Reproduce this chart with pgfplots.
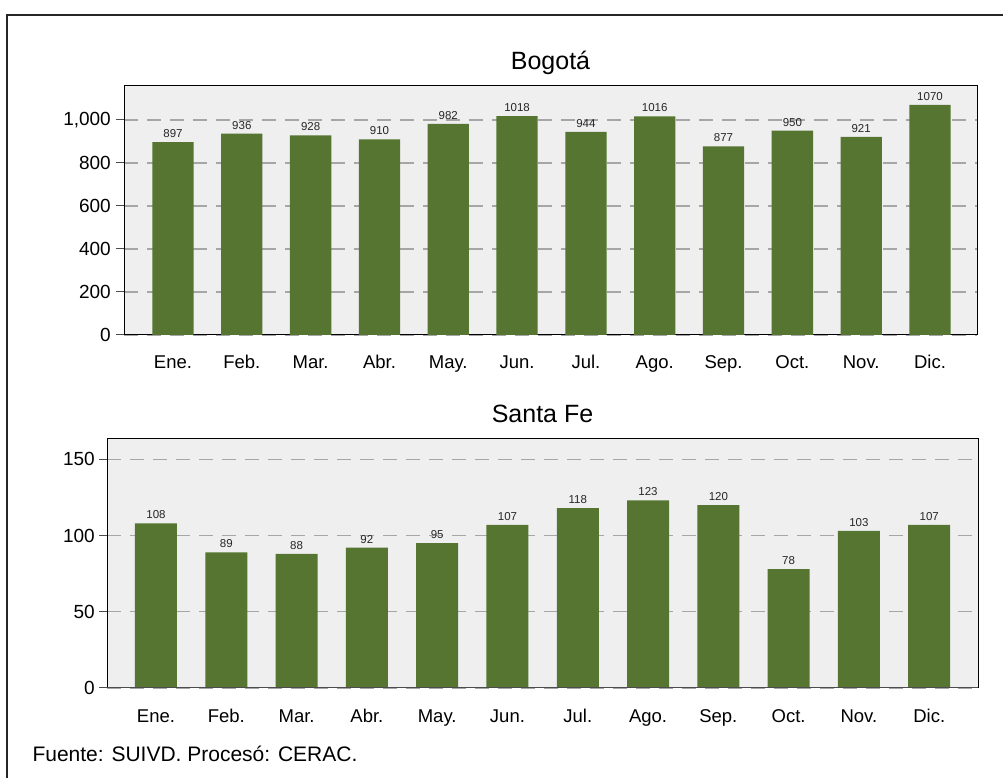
\documentclass[border=0pt]{standalone}
\usepackage{fontspec}
\setmainfont{Liberation Sans}
\usepackage{pgfplots}
\pgfplotsset{compat=1.18}
\definecolor{bargreen}{RGB}{85,117,48}
\definecolor{bgray}{RGB}{239,239,239}
\definecolor{gridgray}{RGB}{166,166,166}
\pgfplotsset{
  mystyle/.style={
    scale only axis, anchor=south west,
    axis background/.style={fill=bgray},
    axis line style={black, line width=1pt},
    ybar, bar shift=0pt,
    ymin=0,
    xtick={0,...,11},
    xticklabels={Ene.,Feb.,Mar.,Abr.,May.,Jun.,Jul.,Ago.,Sep.,Oct.,Nov.,Dic.},
    x tick label style={font=\fontsize{18.5}{20}\selectfont, anchor=base, yshift=-26pt},
    xtick style={draw=none},
    ytick pos=left,
    ytick style={draw=black!70, line width=1pt},
    tick align=outside, major tick length=8pt,
    ymajorgrids, major grid style={gridgray, line width=1.4pt, dash pattern=on 14pt off 9pt},
    y tick label style={font=\fontsize{19}{22}\selectfont, anchor=east, inner sep=0pt},
    /pgf/number format/assume math mode=true,
    /pgf/number format/1000 sep={,},
    title style={font=\fontsize{25}{28}\selectfont, anchor=base, at={(0.5,1)}, yshift=10pt},
    nodes near coords={\pgfmathprintnumber[1000 sep={}]{\pgfplotspointmeta}},
    every node near coord/.append style={font=\fontsize{11.5}{12}\selectfont, text=black!85, yshift=1pt},
  }
}
\begin{document}
\begin{tikzpicture}[x=1pt,y=1pt]
\useasboundingbox (0,0) rectangle (1003,778);
\draw[line width=1.3pt, black!85] (7,-20) -- (7,763) -- (1030,763);
\begin{axis}[mystyle, at={(124pt,443pt)}, width=853pt, height=249.5pt,
  ymax=1160, xmin=-0.712, xmax=11.683, ytick={0,200,...,1000}, bar width=41.3pt,
  y tick label style={xshift=-5pt},
  title={Bogotá}]
\addplot[fill=bargreen, draw=none] coordinates {
(0,897) (1,936) (2,928) (3,910) (4,982) (5,1018) (6,944) (7,1016) (8,877) (9,950) (10,921) (11,1070)};
\end{axis}
\begin{axis}[mystyle, at={(107pt,90pt)}, width=871pt, height=249pt,
  ymax=163.3, xmin=-0.697, xmax=11.694, ytick={0,50,100,150}, bar width=42pt,
  y tick label style={xshift=-4pt},
  title={Santa Fe}]
\addplot[fill=bargreen, draw=none] coordinates {
(0,108) (1,89) (2,88) (3,92) (4,95) (5,107) (6,118) (7,123) (8,120) (9,78) (10,103) (11,107)};
\draw[black!70, line width=2.2pt] (rel axis cs:0,0) -- (rel axis cs:1,0);
\end{axis}
\node[anchor=base west, font=\fontsize{21}{24}\selectfont] at (29,16.3) {Fuente: SUIVD. Procesó: CERAC.};
\end{tikzpicture}
\end{document}
